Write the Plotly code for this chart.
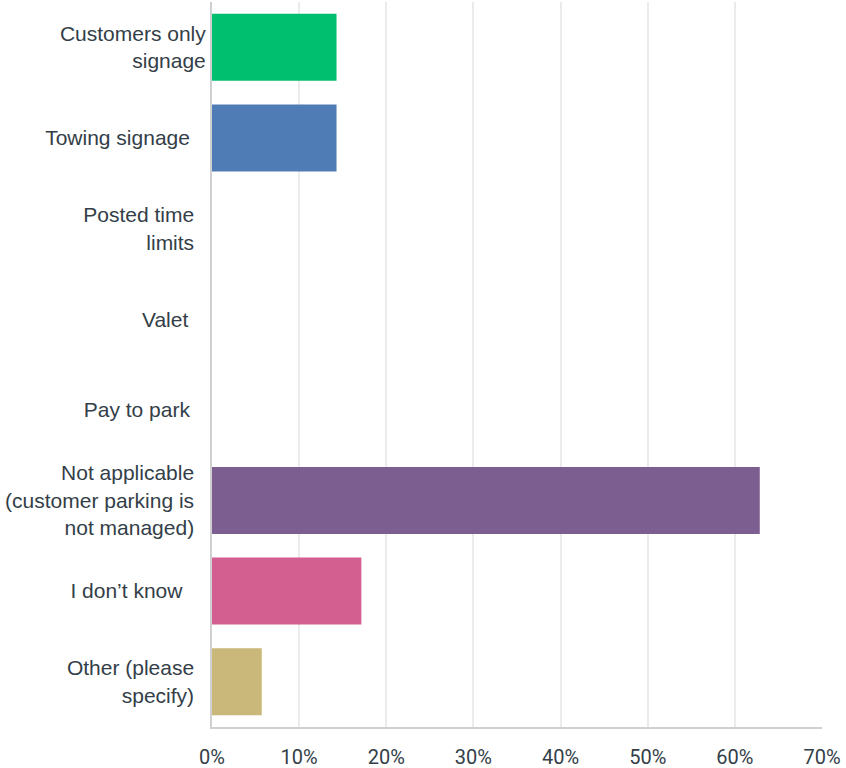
import plotly.graph_objects as go

# --- DATOS ---
NBSP = "\u00a0"
categorias = [
    "Customers only<br>signage",
    "Towing signage" + NBSP * 2 + "\u2009",
    "Posted time" + NBSP * 2 + "<br>limits" + NBSP * 2,
    "Valet" + NBSP * 3,
    "Pay to park" + NBSP * 2 + "\u2009",
    "Not applicable" + NBSP * 2 + "<br>(customer parking is" + NBSP * 2 + "<br>not managed)" + NBSP * 2,
    "I don\u2019t know" + NBSP * 4,
    "Other (please" + NBSP * 2 + "<br>specify)" + NBSP * 2,
]
porcentajes = [14.29, 14.29, 0, 0, 0, 62.86, 17.14, 5.71]
colores = ["#00bf6f", "#507cb6", "#f9be00", "#6bc8cd", "#ff8b4f", "#7d5e90", "#d25f90", "#c9b87a"]
ticks_x = [0, 10, 20, 30, 40, 50, 60, 70]
etiquetas_x = [f"{v}%" for v in ticks_x]

COLOR_TEXTO = "#333e48"

# --- GRÁFICA ---
fig = go.Figure(go.Bar(
    x=porcentajes, y=categorias, orientation="h",
    marker_color=colores, marker_line_width=0,
))

fig.update_layout(
    width=846, height=768,
    margin=dict(l=212, r=24, t=2, b=41),
    plot_bgcolor="white", paper_bgcolor="white",
    bargap=0.26, showlegend=False,
    font=dict(family="Liberation Sans, Arial, sans-serif", size=21, color=COLOR_TEXTO),
)
fig.update_xaxes(
    range=[0, 70], tickvals=ticks_x, ticktext=etiquetas_x,
    showgrid=True, gridcolor="#ebebeb", gridwidth=2,
    showline=True, linecolor="#d0d0d0", linewidth=2,
    zeroline=False, ticks="", ticklabelstandoff=11, automargin=False,
    tickfont=dict(family="Roboto, sans-serif", size=20, color=COLOR_TEXTO),
)
fig.update_yaxes(
    autorange="reversed", showgrid=False,
    showline=True, linecolor="#d0d0d0", linewidth=2,
    ticks="", ticklabelstandoff=0, automargin=False,
)

# quitar el margen del body para que la figura ocupe toda la ventana
fig.write_html("out.html", config={"displayModeBar": False},
               post_script="document.body.style.margin='0';")
